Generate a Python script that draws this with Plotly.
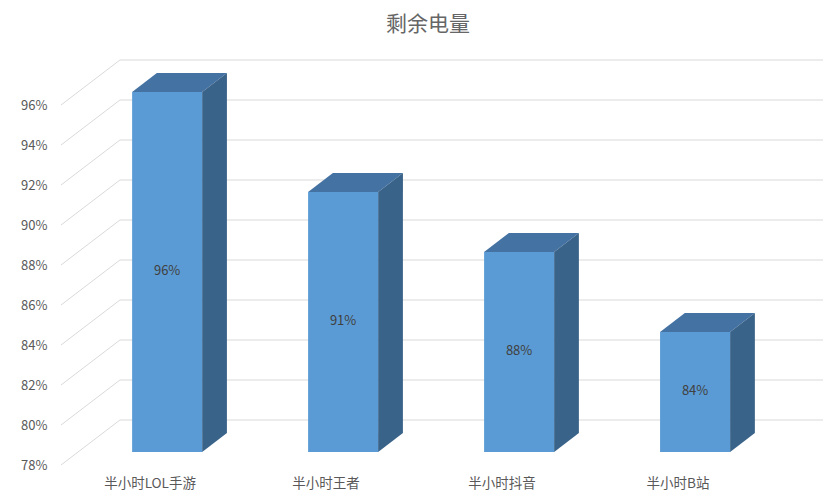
import plotly.graph_objects as go

categories = ['半小时LOL手游', '半小时王者', '半小时抖音', '半小时B站']
remaining = [96, 91, 88, 84]
labels = ['96%', '91%', '88%', '84%']
tick_vals = [78, 80, 82, 84, 86, 88, 90, 92, 94, 96]
tick_text = ['78%', '80%', '82%', '84%', '86%', '88%', '90%', '92%', '94%', '96%']

# oblique "3D" projection: one unit of depth moves kx categories right, ky % up
kx, ky = 0.335, 2.25
d0, d1 = 0.29, 0.71          # bar sits between these depths
bar_w = 0.398
floor = 78
x_left, x_right = -0.506, 3.824

front_c = '#5B9BD5'
top_c = '#4472A3'
side_c = '#3A6389'
grid_c = '#D9D9D9'

fig = go.Figure()

# walls: diagonal on the left side wall, then horizontal on the back wall
for v in tick_vals:
    fig.add_shape(type='path', layer='below',
                  path=f'M {x_left},{v} L {x_left + kx},{v + ky} L {x_right},{v + ky}',
                  line=dict(color=grid_c, width=1))

dk = d1 - d0
for i, v in enumerate(remaining):
    xc = i + d0 * kx
    xl, xr = xc - bar_w / 2, xc + bar_w / 2
    base = floor + d0 * ky
    top = v + d0 * ky
    # front face
    fig.add_trace(go.Bar(x=[xc], y=[top - base], base=[base], width=[bar_w],
                         marker=dict(color=front_c, line=dict(width=0)),
                         hoverinfo='skip', showlegend=False))
    # top face
    fig.add_trace(go.Scatter(
        x=[xl, xr, xr + dk * kx, xl + dk * kx, xl],
        y=[top, top, top + dk * ky, top + dk * ky, top],
        fill='toself', fillcolor=top_c, mode='lines', line=dict(width=0),
        hoverinfo='skip', showlegend=False))
    # side face
    fig.add_trace(go.Scatter(
        x=[xr, xr, xr + dk * kx, xr + dk * kx, xr],
        y=[base, top, top + dk * ky, base + dk * ky, base],
        fill='toself', fillcolor=side_c, mode='lines', line=dict(width=0),
        hoverinfo='skip', showlegend=False))
    # data label
    fig.add_trace(go.Scatter(
        x=[xc], y=[(base + top) / 2], mode='text', text=[labels[i]],
        textfont=dict(size=13, color='#404040'),
        hoverinfo='skip', showlegend=False))

# page body adds 8px offset, so margins are shifted to compensate
fig.update_layout(
    width=840, height=502,
    margin=dict(l=53, r=25, t=51, b=45),
    paper_bgcolor='white', plot_bgcolor='white',
    font=dict(family='Noto Sans CJK SC, sans-serif', color='#595959'),
    title=dict(text='剩余电量', x=0.5, xanchor='center', y=0.968, yanchor='middle',
               font=dict(size=21, color='#666666')),
    barmode='overlay',
    xaxis=dict(range=[x_left, x_right], tickvals=[0, 1, 2, 3], ticktext=categories,
               showgrid=False, zeroline=False, showline=False,
               ticks='outside', ticklen=6, tickcolor='white',
               tickfont=dict(size=13.5, color='#595959')),
    yaxis=dict(range=[floor, 98.3], tickvals=tick_vals, ticktext=tick_text,
               showgrid=False, zeroline=False, showline=False,
               ticks='outside', ticklen=10, tickcolor='white',
               tickfont=dict(size=13, color='#595959')),
)

fig.write_html('out.html')
